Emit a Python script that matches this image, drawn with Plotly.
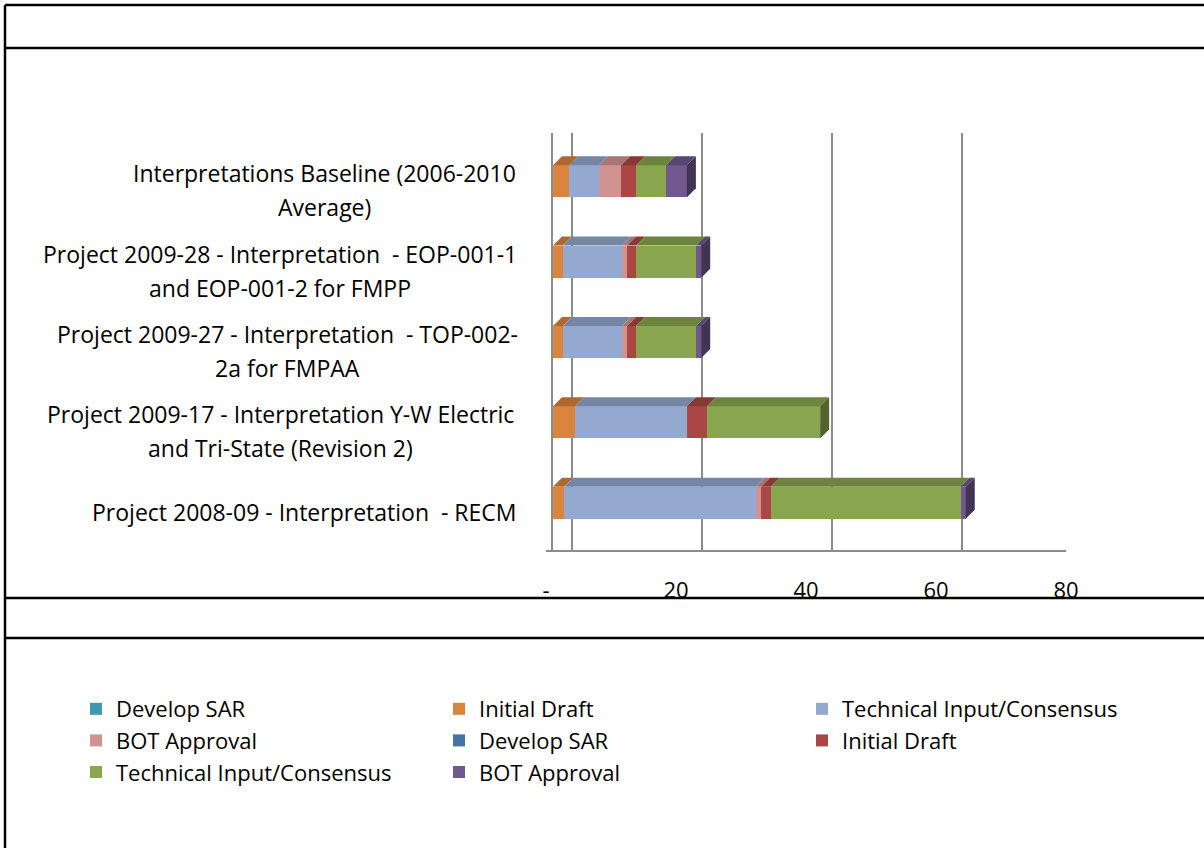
import plotly.graph_objects as go

categories = [
    "Project 2008-09 - Interpretation  - RECM",
    "Project 2009-17 - Interpretation Y-W Electric<br>and Tri-State (Revision 2)",
    "Project 2009-27 - Interpretation  - TOP-002-<br>2a for FMPAA",
    "Project 2009-28 - Interpretation  - EOP-001-1<br>and EOP-001-2 for FMPP",
    "Interpretations Baseline (2006-2010<br>Average)",
]
series_names = ["Develop SAR", "Initial Draft", "Technical Input/Consensus", "BOT Approval",
                "Develop SAR", "Initial Draft", "Technical Input/Consensus", "BOT Approval"]
series_colors = ["#4198AF", "#DB843D", "#93A9CF", "#D19392",
                 "#4572A7", "#AA4643", "#89A54E", "#71588F"]
# values per series, ordered like categories (bottom to top)
dev_sar_1 = [0, 0, 0, 0, 0]
init_draft_1 = [1.7, 3.4, 1.5, 1.5, 2.5]
tech_input_1 = [29.5, 17.2, 9.1, 9.1, 4.6]
bot_appr_1 = [0.8, 0.0, 0.8, 0.8, 3.4]
dev_sar_2 = [0, 0, 0, 0, 0]
init_draft_2 = [1.5, 3.1, 1.4, 1.4, 2.3]
tech_input_2 = [29.2, 17.4, 9.2, 9.2, 4.6]
bot_appr_2 = [0.8, 0.0, 0.8, 0.8, 3.2]
series_values = [dev_sar_1, init_draft_1, tech_input_1, bot_appr_1,
                 dev_sar_2, init_draft_2, tech_input_2, bot_appr_2]
tick_vals = [0, 20, 40, 60, 80]
tick_text = ["-", "20", "40", "60", "80"]

# ---- layout constants (pixels) ----
W, H = 1204, 848
ML, MR, MT, MB = 500, 111, 133, 297
PW, PH = W - ML - MR, H - MT - MB
X0 = 553                       # pixel of value 0 on bar front face
PXU = 6.5                      # pixels per value unit
XMAX = (W - MR - X0) / PXU
YR = [-0.6, 4.6]
PXY = PH / (YR[1] - YR[0])
BARW = 0.4
DEPTH = 9                      # 3-D depth offset in pixels
label_cx = [304, 280, 287, 280, 324]   # label block centres (px)
FONT = "Open Sans"
FS = 23
GRID = "#8c8c8c"


def px2x(px):
    return (px - ML) / PW


def py2y(py):
    return (H - MB - py) / PH


def darken(hexc, f):
    r, g, b = (int(hexc[i:i + 2], 16) for i in (1, 3, 5))
    return "rgb(%d,%d,%d)" % (r * f, g * f, b * f)


fig = go.Figure()
ypos = list(range(len(categories)))
dx = DEPTH / PXU
dy = DEPTH / PXY

# 3-D faces (top faces and right end face) computed from the stacked data
cum = [0.0] * len(categories)
last = [None] * len(categories)
faces = []
for name, color, vals in zip(series_names, series_colors, series_values):
    for i, v in enumerate(vals):
        if v <= 0:
            continue
        x0, x1 = cum[i], cum[i] + v
        top = ypos[i] + BARW / 2
        faces.append(([x0, x1, x1 + dx, x0 + dx, x0], [top, top, top + dy, top + dy, top],
                      darken(color, 0.8)))
        cum[i] = x1
        last[i] = color
for i in ypos:
    x1 = cum[i]
    top, bot = ypos[i] + BARW / 2, ypos[i] - BARW / 2
    faces.append(([x1, x1 + dx, x1 + dx, x1, x1], [bot, bot + dy, top + dy, top, bot],
                  darken(last[i], 0.6)))

for fx, fy, fc in faces:
    fig.add_trace(go.Scatter(x=fx, y=fy, fill="toself", fillcolor=fc, mode="lines",
                             line=dict(width=0, color=fc), showlegend=False, hoverinfo="skip"))

for name, color, vals in zip(series_names, series_colors, series_values):
    fig.add_trace(go.Bar(
        y=ypos, x=vals, name=name, orientation="h",
        marker=dict(color=color, line=dict(width=0)),
        width=BARW,
    ))

# overlay axis for back-wall gridlines, free axis for the front floor + labels
gshift = 19 / PXU
fig.add_trace(go.Scatter(x=[None], y=[None], xaxis="x2", showlegend=False))
fig.add_trace(go.Scatter(x=[None], y=[None], xaxis="x3", showlegend=False))

fig.update_layout(
    width=W, height=H, barmode="stack",
    margin=dict(l=ML, r=MR, t=MT, b=MB),
    paper_bgcolor="white", plot_bgcolor="rgba(0,0,0,0)",
    font=dict(family=FONT, size=FS, color="black"),
    xaxis=dict(domain=[px2x(X0), 1], range=[0, XMAX], showticklabels=False,
               showgrid=False, zeroline=False, showline=False),
    xaxis2=dict(range=[-gshift, XMAX - gshift], overlaying="x", tickvals=tick_vals,
                showticklabels=False, showgrid=True, gridcolor=GRID, gridwidth=2,
                zeroline=False, showline=False),
    xaxis3=dict(domain=[px2x(X0 - 7), px2x(X0 - 7 + 80 * PXU)], range=[0, 80],
                anchor="free", position=0, tickvals=tick_vals, ticktext=tick_text,
                showgrid=False, zeroline=False, showline=True, linecolor=GRID, linewidth=2,
                ticks="outside", ticklen=20, tickcolor="rgba(0,0,0,0)",
                tickfont=dict(family=FONT, size=22, color="black")),
    yaxis=dict(range=YR, anchor="x", showticklabels=False, showgrid=False, zeroline=False,
               showline=True, linecolor=GRID, linewidth=2),
    showlegend=True,
    legend=dict(orientation="h", x=px2x(76), y=py2y(688), xanchor="left", yanchor="top",
                entrywidth=318, entrywidthmode="pixels", traceorder="normal",
                font=dict(family=FONT, size=22, color="black"), itemwidth=30),
)

# category labels: centred lines
for i, cat in enumerate(categories):
    lines = cat.split("<br>")
    n = len(lines)
    for j, line in enumerate(lines):
        off = (j - (n - 1) / 2) * 34
        fig.add_annotation(x=px2x(label_cx[i]), xref="paper", y=ypos[i], yref="y", text=line,
                           showarrow=False, xanchor="center", yanchor="middle",
                           yshift=-9 - off, font=dict(family=FONT, size=FS, color="black"))

# frame lines
for py in [5, 48, 598, 638]:
    fig.add_shape(type="line", xref="paper", yref="paper", x0=px2x(5), x1=px2x(1204),
                  y0=py2y(py), y1=py2y(py), line=dict(color="black", width=2.5))
fig.add_shape(type="line", xref="paper", yref="paper", x0=px2x(5), x1=px2x(5),
              y0=py2y(5), y1=py2y(848), line=dict(color="black", width=2.5))

fig.write_html("out.html", config={"displayModeBar": False},
               post_script="document.body.style.margin='0px';")
